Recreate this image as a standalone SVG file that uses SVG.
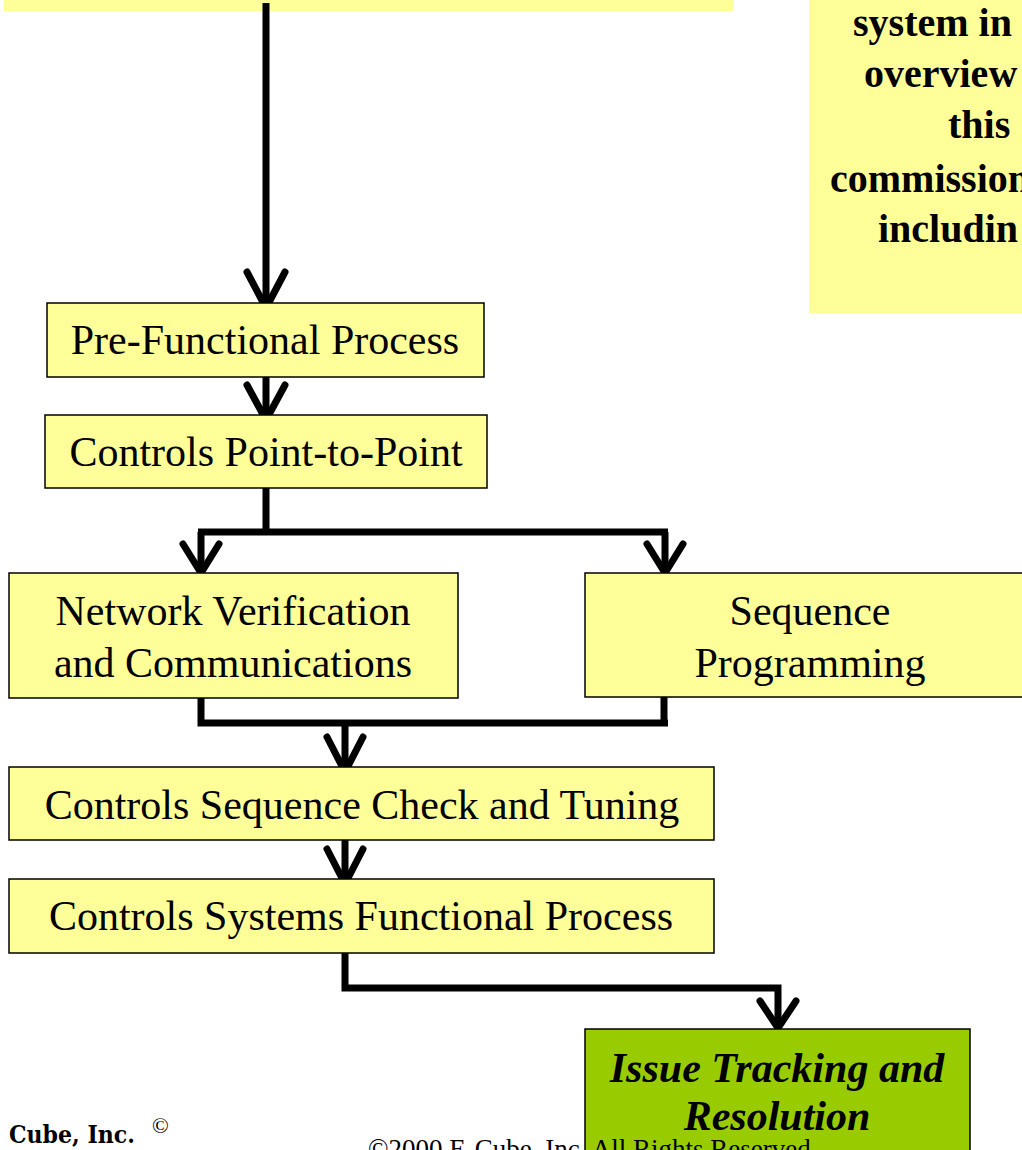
<svg xmlns="http://www.w3.org/2000/svg" width="1022" height="1150" viewBox="0 0 1022 1150">
<style>
.box{fill:#FFFF99;stroke:#000;stroke-width:1.5}
.green{fill:#99CC00;stroke:#000;stroke-width:1.5}
.lbl{font-family:"Liberation Serif","Times New Roman",serif;font-size:42px;fill:#000;text-anchor:middle}
.note{font-family:"Liberation Serif","Times New Roman",serif;font-size:40px;font-weight:bold;fill:#000}
.em{font-family:"Liberation Serif","Times New Roman",serif;font-size:42px;font-weight:bold;font-style:italic;fill:#000;text-anchor:middle}
.conn{fill:none;stroke:#000;stroke-width:7;stroke-linecap:butt;stroke-linejoin:miter}
.head{fill:none;stroke:#000;stroke-width:7;stroke-linecap:round;stroke-linejoin:round}
</style>
<rect width="1022" height="1150" fill="#fff"/>
<g id="top-box"><rect x="4" y="-20" width="729" height="31" fill="#FFFF99"/></g>
<g id="note-box">
<rect x="809" y="-10" width="220" height="323" fill="#FFFF99"/>
<text class="note" x="853" y="36">system in</text>
<text class="note" x="864" y="87">overview</text>
<text class="note" x="948" y="138">this</text>
<text class="note" x="830" y="192">commission</text>
<text class="note" x="878" y="242">includin</text>
</g>
<g id="connectors">
<path class="conn" d="M266 3V306"/>
<path class="head" d="M247 272L266 308L285 272"/>
<path class="conn" d="M266 377V418"/>
<path class="head" d="M247 385L266 420L285 385"/>
<path class="conn" d="M266 488V532M198 532H668M201 532V573M665 532V573"/>
<path class="head" d="M183 544L201 573L219 544"/>
<path class="head" d="M647 544L665 573L683 544"/>
<path class="conn" d="M201 697V723H668M664 697V723M345 723V771"/>
<path class="head" d="M327 737L345 772L363 737"/>
<path class="conn" d="M345 840V883"/>
<path class="head" d="M327 849L345 884L363 849"/>
<path class="conn" d="M345 953V988H778V1026"/>
<path class="head" d="M760 1001L778 1028L796 1001"/>
</g>
<g id="n-prefunctional"><rect class="box" x="47" y="303" width="437" height="74"/><text class="lbl" x="265" y="354">Pre-Functional Process</text></g>
<g id="n-p2p"><rect class="box" x="45" y="415" width="442" height="73"/><text class="lbl" x="266" y="466">Controls Point-to-Point</text></g>
<g id="n-network"><rect class="box" x="9" y="573" width="449" height="125"/><text class="lbl" x="233" y="625">Network Verification</text><text class="lbl" x="233" y="677">and Communications</text></g>
<g id="n-sequence"><rect class="box" x="585" y="573" width="450" height="124"/><text class="lbl" x="810" y="625">Sequence</text><text class="lbl" x="810" y="677">Programming</text></g>
<g id="n-check"><rect class="box" x="9" y="767" width="705" height="73"/><text class="lbl" x="362" y="819">Controls Sequence Check and Tuning</text></g>
<g id="n-functional"><rect class="box" x="9" y="879" width="705" height="74"/><text class="lbl" x="361" y="930">Controls Systems Functional Process</text></g>
<g id="n-issue"><rect class="green" x="585" y="1029" width="385" height="140"/><text class="em" x="777" y="1082">Issue Tracking and</text><text class="em" x="777" y="1130">Resolution</text></g>
<g id="footer">
<text x="9" y="1143" textLength="126" lengthAdjust="spacingAndGlyphs" style="font-family:'DejaVu Serif','Liberation Serif',serif;font-weight:bold;font-size:25px">Cube, Inc.</text>
<text x="152" y="1133" style="font-family:'Liberation Serif',serif;font-size:22px">©</text>
<text x="368" y="1158" style="font-family:'Liberation Serif',serif;font-size:27px">©2000 E-Cube, Inc. All Rights Reserved</text>
</g>
</svg>
